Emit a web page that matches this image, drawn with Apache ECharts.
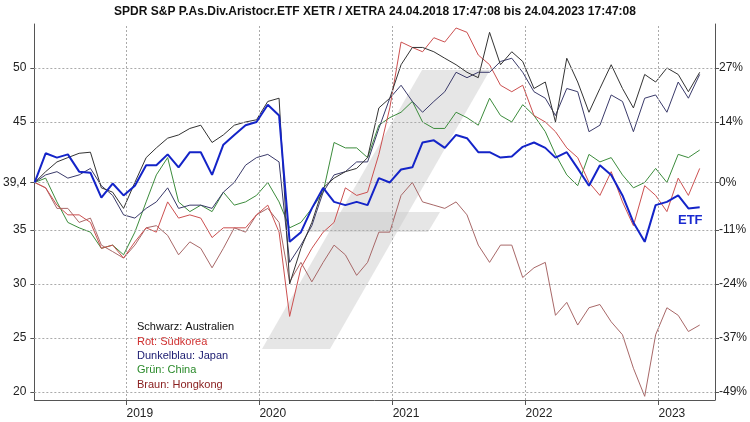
<!DOCTYPE html>
<html lang="de">
<head>
<meta charset="UTF-8" />
<title>SPDR S&P P.As.Div.Aristocr.ETF</title>
<script src="https://cdn.jsdelivr.net/npm/echarts@6/dist/echarts.min.js"></script>
</head>
<body style="margin:0">
<div id="main" style="width:750px;height:422px"></div>
<script>
// Monatswerte ab 24.04.2018, alles auf ETF-Kursskala (Start 39,4)
var etf = [39.4,42.1,41.7,42.0,40.4,40.3,38.0,39.3,38.2,39.1,41.0,41.0,42.0,40.8,42.2,42.2,40.1,42.9,43.8,44.7,45.0,46.6,45.6,33.9,34.8,37.0,38.9,37.6,37.3,37.6,37.3,39.8,39.4,40.6,40.8,43.1,43.3,42.6,43.8,43.5,42.2,42.2,41.7,41.8,42.7,43.1,42.6,41.7,42.2,40.7,39.1,41.0,40.1,38.2,35.7,33.9,37.3,37.6,38.2,37.0,37.1];
var australien = [39.4,40.4,41.3,41.7,42.1,42.2,38.9,38.5,37.0,39.4,41.7,42.6,43.5,43.8,44.4,44.7,43.1,43.8,44.7,45.0,45.2,46.9,47.2,30.0,33.3,35.7,38.9,39.8,40.4,40.7,41.7,46.3,47.2,50.3,51.9,51.9,51.5,50.9,50.3,49.6,49.1,53.3,50.3,51.5,50.6,48.1,48.7,45.0,50.9,48.7,45.9,48.1,50.3,48.1,46.3,49.4,48.7,50.0,49.4,47.8,49.6];
var suedkorea = [39.4,38.9,37.3,36.4,36.4,35.7,33.3,33.6,32.4,33.9,35.2,34.8,37.6,36.1,36.4,36.1,34.3,35.2,35.2,35.2,36.4,37.3,34.8,27.0,31.5,33.3,34.8,35.7,38.9,38.2,38.5,42.0,46.3,52.4,51.9,51.5,52.8,52.4,53.7,53.3,51.2,50.3,48.4,47.8,48.4,45.6,45.0,44.1,42.6,41.7,39.4,38.2,40.4,37.6,35.4,39.1,38.2,36.7,39.8,38.2,40.7];
var japan = [39.4,40.1,40.4,39.8,40.1,40.7,39.1,38.2,36.4,36.1,37.0,37.6,38.9,37.0,37.3,37.3,37.0,38.5,39.4,41.0,41.7,42.0,41.3,32.0,33.6,35.4,38.5,40.1,40.4,41.3,41.3,44.4,47.2,48.4,46.9,45.9,46.9,47.8,49.6,49.1,49.6,49.6,50.6,50.9,49.6,47.8,47.2,45.6,48.1,47.8,44.1,44.7,47.5,46.9,44.1,47.2,47.5,45.9,48.7,47.2,49.4];
var china = [39.4,39.8,37.6,35.7,35.2,34.8,33.3,33.6,32.7,34.8,37.6,40.1,41.7,37.6,36.7,37.3,36.7,38.5,37.3,37.6,38.2,39.4,37.6,35.2,35.7,37.0,38.5,43.1,42.6,42.6,41.7,44.7,45.4,45.9,46.9,45.0,44.4,44.4,45.9,45.4,44.7,47.2,45.6,45.0,46.6,45.6,44.1,42.0,40.1,39.1,42.0,41.3,41.7,40.1,38.9,39.4,40.7,39.4,42.0,41.7,42.4];
var hongkong = [39.4,38.9,37.0,37.0,35.7,36.1,33.6,33.0,32.4,33.6,35.2,35.4,34.5,32.7,33.9,33.3,31.5,33.3,35.2,34.8,36.4,37.0,35.7,30.2,32.0,30.2,32.0,33.6,32.7,30.8,32.0,34.8,34.8,38.2,39.4,37.6,37.3,37.0,37.6,36.4,33.6,32.0,33.6,33.6,30.6,31.5,32.0,27.1,28.3,26.2,27.8,28.1,26.5,25.3,22.2,19.6,25.3,27.8,27.1,25.6,26.2];

var leftTicks = [20, 25, 30, 35, 39.4, 45, 50];
var rightLabels = ['-49%', '-37%', '-24%', '-11%', '0%', '14%', '27%'];
var yearTicks = [2019, 2020, 2021, 2022, 2023];

var dates = [];
for (var i = 0; i < etf.length; i++) {
  dates.push(Date.UTC(2018, 3 + i, 24));
}
function pairs(arr) {
  return arr.map(function (v, i) { return [dates[i], v]; });
}
var yearMs = yearTicks.map(function (y) { return Date.UTC(y, 0, 1); });

var mCharts = echarts.init(document.getElementById('main'));
var gridStyle = { color: '#aaa', type: [2, 2], width: 1 };
var font = 'Arial, "Liberation Sans", sans-serif';

function line(name, data, color, width) {
  return {
    name: name, type: 'line', data: pairs(data), symbol: 'none',
    lineStyle: { color: color, width: width || 1 }, z: width ? 5 : 3
  };
}

var option = {
  animation: false,
  backgroundColor: '#fff',
  title: {
    text: 'SPDR S&P P.As.Div.Aristocr.ETF XETR / XETRA 24.04.2018 17:47:08 bis 24.04.2023 17:47:08',
    left: 'center', top: 1,
    textStyle: { fontSize: 12, fontWeight: 'bold', color: '#111', fontFamily: font }
  },
  grid: { left: 33, right: 34, top: 24, bottom: 22 },
  xAxis: {
    type: 'value',
    min: Date.UTC(2018, 3, 23), max: Date.UTC(2023, 5, 5),
    axisLine: { lineStyle: { color: '#555' } },
    axisTick: { show: true, customValues: yearMs, length: 5, lineStyle: { color: '#555' } },
    axisLabel: {
      customValues: yearMs, color: '#222', fontSize: 12, fontFamily: font, align: 'left',
      formatter: function (v) { return String(new Date(v).getUTCFullYear()); }
    },
    splitLine: { show: false }
  },
  yAxis: [{
    type: 'value', min: 19.26, max: 54.07,
    axisLine: { show: true, lineStyle: { color: '#555' } },
    axisTick: { show: true, customValues: leftTicks, length: 4, lineStyle: { color: '#555' } },
    axisLabel: {
      customValues: leftTicks, color: '#222', fontSize: 12, fontFamily: font,
      formatter: function (v) { return String(v).replace('.', ','); }
    },
    splitLine: { show: false }
  }, {
    type: 'value', min: 19.26, max: 54.07, position: 'right',
    axisLine: { show: true, lineStyle: { color: '#555' } },
    axisTick: { show: true, customValues: leftTicks, length: 4, lineStyle: { color: '#555' } },
    axisLabel: {
      customValues: leftTicks, color: '#222', fontSize: 12, fontFamily: font, margin: 4,
      formatter: function (v) { return rightLabels[leftTicks.indexOf(v)] || ''; }
    },
    splitLine: { show: false }
  }],
  graphic: [
    { type: 'polygon', z: 0, shape: { points: [[262, 349], [330, 349], [490, 70], [422, 70]] },
      style: { fill: 'rgba(200,200,200,0.45)' } },
    { type: 'polygon', z: 0, shape: { points: [[318, 212], [440, 212], [428, 232], [308, 232]] },
      style: { fill: 'rgba(200,200,200,0.45)' } },
    { type: 'text', left: 137, top: 321, z: 10, style: { text: 'Schwarz: Australien', fill: '#111', font: '11px ' + font } },
    { type: 'text', left: 137, top: 336, z: 10, style: { text: 'Rot: Südkorea', fill: '#d03030', font: '11px ' + font } },
    { type: 'text', left: 137, top: 350, z: 10, style: { text: 'Dunkelblau: Japan', fill: '#1a1a70', font: '11px ' + font } },
    { type: 'text', left: 137, top: 364, z: 10, style: { text: 'Grün: China', fill: '#2a8a2a', font: '11px ' + font } },
    { type: 'text', left: 137, top: 379, z: 10, style: { text: 'Braun: Hongkong', fill: '#8a2020', font: '11px ' + font } },
    { type: 'text', left: 678, top: 214, z: 10, style: { text: 'ETF', fill: '#1a2ad0', font: 'bold 13px ' + font } }
  ],
  series: [
    {
      type: 'line', data: [], silent: true,
      markLine: {
        symbol: 'none', silent: true, label: { show: false },
        lineStyle: gridStyle,
        data: leftTicks.map(function (v) { return { yAxis: v }; })
          .concat(yearMs.map(function (v) { return { xAxis: v }; }))
      }
    },
    line('Hongkong', hongkong, '#a86868'),
    line('China', china, '#3c8c3c'),
    line('Südkorea', suedkorea, '#cc5050'),
    line('Japan', japan, '#3a3a6a'),
    line('Australien', australien, '#333333'),
    line('ETF', etf, '#1424c8', 2)
  ]
};
mCharts.setOption(option);
</script>
</body>
</html>
